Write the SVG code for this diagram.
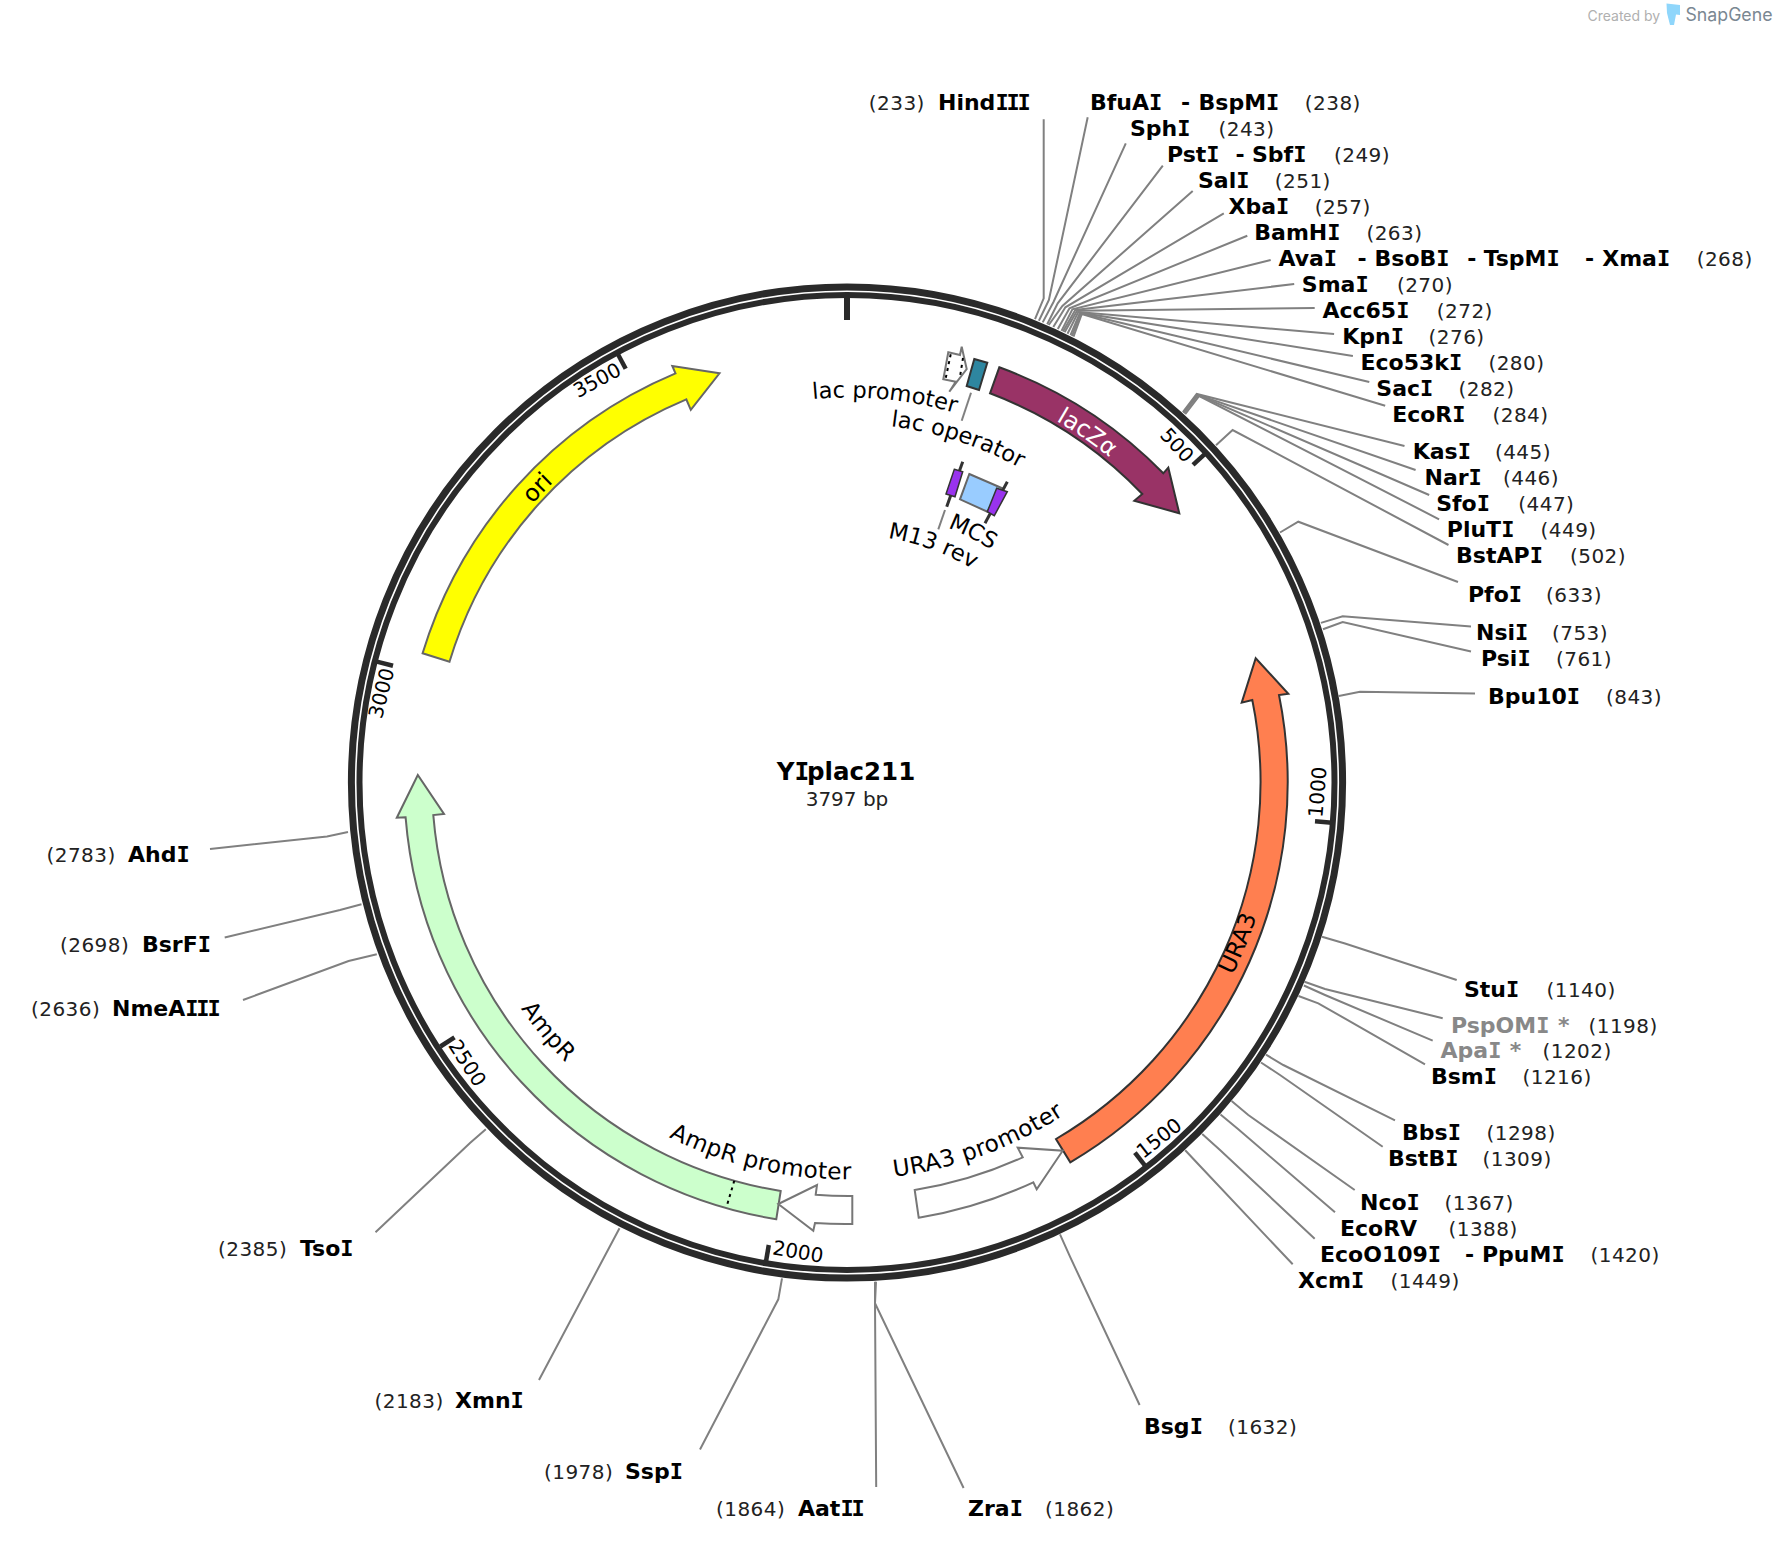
<svg xmlns="http://www.w3.org/2000/svg" width="1780" height="1542" viewBox="0 0 1780 1542">
<style>
text{font-family:"DejaVu Sans","Liberation Sans",sans-serif;fill:#000}
.n{font-weight:700;font-size:22px}
.i{font-family:"DejaVu Sans Mono","DejaVu Sans",monospace;letter-spacing:-2.2px}
.p{font-size:20px;fill:#222;letter-spacing:.45px}
.g{fill:#888}
.f{font-size:22.5px}
.fb{font-size:23.2px;letter-spacing:.4px}
.t{font-size:20px;text-anchor:middle;dominant-baseline:central}
.m{text-anchor:middle}
.l{fill:none;stroke:#808080;stroke-width:2}
.ring{fill:none;stroke:#2a2a2a}
.tick{stroke:#2a2a2a;stroke-width:4.5}
.a{stroke:#666;stroke-width:2;stroke-linejoin:miter}
.b{stroke:#333;stroke-width:2}
.o{fill:#fff;stroke:#777;stroke-width:2}
.d{stroke:#000;stroke-width:2;stroke-dasharray:3 4;fill:none}
.dk{stroke:#333;stroke-width:3}
</style>
<defs>
<path id="bot397" d="M450 782.5A397 397 0 0 0 1244 782.5"/>
<path id="bot431" d="M416 782.5A431 431 0 0 0 1278 782.5"/>
<path id="top385" d="M462 782.5A385 385 0 0 1 1232 782.5"/>
<path id="top359" d="M488 782.5A359 359 0 0 1 1206 782.5"/>
<path id="top274" d="M573 782.5A274 274 0 0 1 1121 782.5"/>
<path id="top248" d="M599 782.5A248 248 0 0 1 1095 782.5"/>
<path id="top420" d="M427 782.5A420 420 0 0 1 1267 782.5"/>
<path id="top418" d="M429 782.5A418 418 0 0 1 1265 782.5"/>
</defs>
<g id="connectors">
<path class="l" d="M1035 319.2L1043.7 298.3L1043.7 119.3"/>
<path class="l" d="M1038.9 320.8L1048.9 300L1087.7 117.3"/>
<path class="l" d="M1042.7 322.4L1053.6 301.7L1125.8 143.3"/>
<path class="l" d="M1047.2 324.3L1057.7 303.3L1162.8 165.7"/>
<path class="l" d="M1048.7 325L1062.4 306L1192.7 191"/>
<path class="l" d="M1053.3 327L1065.4 307.3L1223.8 213.3"/>
<path class="l" d="M1057.8 329L1069.5 308.3L1247.3 235.7"/>
<path class="l" d="M1061.5 330.9L1072.4 309.3L1270.7 260"/>
<path class="l" d="M1063 331.6L1075.3 310L1294.2 284"/>
<path class="l" d="M1064.6 332.3L1077.1 310.7L1314.7 308"/>
<path class="l" d="M1067.5 333.8L1078.3 312L1334.1 334"/>
<path class="l" d="M1070.5 335.2L1080 312.7L1352.9 356"/>
<path class="l" d="M1072 336L1080.6 313.3L1369.3 382"/>
<path class="l" d="M1073.5 336.7L1081.8 314L1385.2 405.7"/>
<path class="l" d="M1182.9 412.1L1196.7 394L1404.5 446"/>
<path class="l" d="M1183.4 412.6L1197.4 394.6L1415.6 470"/>
<path class="l" d="M1184 413.2L1198 395L1429.2 495"/>
<path class="l" d="M1185.2 414.2L1199.2 396L1439.1 519.3"/>
<path class="l" d="M1216 445.2L1232.6 430L1448.5 545"/>
<path class="l" d="M1280 532.5L1298.3 521.7L1458 582"/>
<path class="l" d="M1320.9 622.9L1342.7 616.3L1471 626.5"/>
<path class="l" d="M1323 629.3L1342.7 622L1471 651.5"/>
<path class="l" d="M1338.8 696L1360 691.7L1475 693.5"/>
<path class="l" d="M1322 936.7L1345 943.5L1456.7 980"/>
<path class="l" d="M1304.5 981.8L1325 989L1442.7 1018.3"/>
<path class="l" d="M1303.9 985.5L1325 995L1432.7 1040.7"/>
<path class="l" d="M1298.5 996L1318.3 1003.3L1425 1064.3"/>
<path class="l" d="M1266 1054.7L1283.3 1065L1395 1120.3"/>
<path class="l" d="M1261 1062.5L1280 1075L1382.7 1146.7"/>
<path class="l" d="M1231.6 1101L1248.3 1115L1354.7 1190"/>
<path class="l" d="M1220.5 1114.4L1238 1129L1335 1212.3"/>
<path class="l" d="M1202.2 1134L1220 1150L1314.7 1238.7"/>
<path class="l" d="M1185.2 1150.2L1200 1166L1292.7 1264.3"/>
<path class="l" d="M1060 1234.4L1070 1256.7L1139.6 1405"/>
<path class="l" d="M876 1281.7L875 1303.3L963.6 1488"/>
<path class="l" d="M875 1281.7L875 1303L876.2 1487"/>
<path class="l" d="M782 1278.3L778.3 1299.3L700 1449.5"/>
<path class="l" d="M619.5 1228.2L609 1248L539 1380"/>
<path class="l" d="M485.8 1129.3L470 1143L375.5 1232.3"/>
<path class="l" d="M376.8 954.2L348.6 961L243 1000"/>
<path class="l" d="M361.5 904.2L340 910L224.7 937.5"/>
<path class="l" d="M348 832L327 836.5L210 849"/>
</g>
<g id="backbone">
<circle class="ring" cx="847" cy="782.5" r="495.6" stroke-width="7"/>
<circle class="ring" cx="847" cy="782.5" r="487.5" stroke-width="6"/>
<line x1="847" y1="295" x2="847" y2="320" stroke="#2a2a2a" stroke-width="6"/>
<line class="tick" x1="1205" y1="453.8" x2="1193" y2="464.8"/>
<line class="tick" x1="1332" y1="822.7" x2="1315" y2="821.3"/>
<line class="tick" x1="1145.4" y1="1166.2" x2="1134.9" y2="1152.7"/>
<line class="tick" x1="766" y1="1261.5" x2="768.8" y2="1245"/>
<line class="tick" x1="440.4" y1="1046.5" x2="454.5" y2="1037.4"/>
<line class="tick" x1="376.8" y1="661.6" x2="393" y2="665.8"/>
<line class="tick" x1="617.8" y1="354" x2="625.7" y2="368.7"/>
<g>
<text class="t" transform="translate(1177 445) rotate(47.4)">500</text>
<text class="t" transform="translate(1317.5 792) rotate(-85.2)">1000</text>
<text class="t" transform="translate(1159 1138) rotate(-37.8)">1500</text>
<text class="t" transform="translate(798 1251.7) rotate(9.6)">2000</text>
<text class="t" transform="translate(467.4 1063) rotate(57)">2500</text>
<text class="t" transform="translate(381.3 693) rotate(-75.6)">3000</text>
<text class="t" transform="translate(597 380) rotate(-28.2)">3500</text>
</g>
</g>
<g id="feature-ori">
<path class="a" fill="#ffff00" d="M422.6 653.3A443.6 443.6 0 0 1 675.5 373.4L672.3 365.9L719.5 373.3L690.8 409.9L686.3 399.3A415.5 415.5 0 0 0 449.5 661.7Z"/>
<text class="f m" style="font-size:23.5px" transform="rotate(-46.4 847 782.5)"><textPath href="#top420" startOffset="50%">ori</textPath></text>
</g>
<g id="feature-lacZ">
<path class="b" fill="#993366" d="M999.3 367.3A442 442 0 0 1 1163.3 473.3L1168.3 467.7L1179.3 513.3L1134.3 500.7L1142.3 494A414 414 0 0 0 990 393.3Z"/>
<text class="f m" style="fill:#fff;font-size:23.5px" transform="rotate(34.5 847 782.5)"><textPath href="#top418" startOffset="50%">lacZα</textPath></text>
</g>
<g id="feature-URA3">
<path class="b" fill="#ff7f50" d="M1056 1139A413.5 413.5 0 0 0 1252.3 700L1241.7 702.7L1255.7 658.3L1288.3 693.7L1279 695A441 441 0 0 1 1070.3 1162.3Z"/>
<text class="fb m" transform="rotate(-67.7 847 782.5)"><textPath href="#bot431" startOffset="50%">URA3</textPath></text>
</g>
<g id="feature-URA3-promoter">
<path class="o" d="M914.7 1190A415 415 0 0 0 1022.7 1157.3L1017.7 1147.7L1062.7 1150.7L1036.7 1189.3L1033.3 1182.3A443 443 0 0 1 918.7 1217.7Z"/>
<text class="fb m" transform="rotate(-20 847 782.5)"><textPath href="#bot397" startOffset="50%">URA3 promoter</textPath></text>
</g>
<g id="feature-AmpR">
<path class="a" fill="#ccffcc" d="M405.6 817.3L396.8 817.7L417.8 775L444 814L433.3 815.1A415 415 0 0 0 780.7 1191L776.3 1219.2A442.8 442.8 0 0 1 405.6 817.3Z"/>
<line class="d" x1="734.3" y1="1180.7" x2="726.4" y2="1207.3"/>
<text class="fb m" transform="rotate(50.2 847 782.5)"><textPath href="#bot397" startOffset="50%">AmpR</textPath></text>
</g>
<g id="feature-AmpR-promoter">
<path class="o" d="M778.3 1204L817 1185L815.7 1194.7A415 415 0 0 0 852.3 1196L852.3 1224A443 443 0 0 1 815 1223L813.3 1230.7Z"/>
<text class="fb m" transform="rotate(13 847 782.5)"><textPath href="#bot397" startOffset="50%">AmpR promoter</textPath></text>
</g>
<g id="feature-lac-promoter">
<path class="o" d="M943.3 379.3L948.3 352.3L960 355L961.7 346.7L966.7 369L949.3 391.7L955.7 381.7Z"/>
<line class="d" x1="950.7" y1="354.3" x2="945.7" y2="378.3"/>
<line class="d" x1="963" y1="358" x2="960" y2="376.7"/>
<text class="f m" transform="rotate(5.6 847 782.5)"><textPath href="#top385" startOffset="50%">lac promoter</textPath></text>
</g>
<g id="feature-lac-operator">
<path class="b" fill="#2e86a0" d="M974.3 359L987.3 362.7L979 390L966.7 386Z"/>
<line class="l" x1="971" y1="392.7" x2="961.7" y2="420.7"/>
<text class="f m" transform="rotate(17.9 847 782.5)"><textPath href="#top359" startOffset="50%">lac operator</textPath></text>
</g>
<g id="feature-MCS">
<path class="a" fill="#99ccff" d="M969.3 474L1001.7 488L987.3 511.7L960 499.3Z"/>
<line class="dk" x1="1007.3" y1="481.7" x2="985" y2="523.3"/>
<path fill="#9933ee" stroke="#333" stroke-width="1.5" d="M996.7 488.3L1007.3 491.7L994.3 515.7L987.3 511.7Z"/>
<text class="f m" transform="rotate(26.7 847 782.5)"><textPath href="#top274" startOffset="50%">MCS</textPath></text>
</g>
<g id="feature-M13-rev">
<line class="dk" x1="962.7" y1="461.7" x2="946.7" y2="506.7"/>
<path fill="#9933ee" stroke="#333" stroke-width="1.5" d="M954.3 469.3L962.7 471.7L955 496.7L946 494Z"/>
<line class="l" x1="945" y1="510" x2="938.3" y2="529.3"/>
<text class="f m" transform="rotate(20 847 782.5)"><textPath href="#top248" startOffset="50%">M13 rev</textPath></text>
</g>
<g id="map-title">
<text x="846" y="780" class="m" style="font-size:24.5px;font-weight:700">Y<tspan class="i">I</tspan>plac211</text>
<text x="847" y="806" class="m" style="font-size:20px;fill:#222">3797 bp</text>
</g>
<g id="sites">
<g id="site-HindIII"><text class="p" x="868.8" y="110">(233)</text><text class="n" x="938" y="110">Hind<tspan class="i">III</tspan></text></g>
<g id="site-BfuAI"><text class="n" x="1090" y="110">BfuA<tspan class="i">I</tspan></text><text class="n" x="1181" y="110">-</text><text class="n" x="1198.6" y="110">BspM<tspan class="i">I</tspan></text><text class="p" x="1304.8" y="110">(238)</text></g>
<g id="site-SphI"><text class="n" x="1130" y="136">Sph<tspan class="i">I</tspan></text><text class="p" x="1218.5" y="136">(243)</text></g>
<g id="site-PstI"><text class="n" x="1166.9" y="162">Pst<tspan class="i">I</tspan></text><text class="n" x="1235.5" y="162">-</text><text class="n" x="1252" y="162">Sbf<tspan class="i">I</tspan></text><text class="p" x="1334" y="162">(249)</text></g>
<g id="site-SalI"><text class="n" x="1198" y="188">Sal<tspan class="i">I</tspan></text><text class="p" x="1274.8" y="188">(251)</text></g>
<g id="site-XbaI"><text class="n" x="1228.5" y="214">Xba<tspan class="i">I</tspan></text><text class="p" x="1314.7" y="214">(257)</text></g>
<g id="site-BamHI"><text class="n" x="1254.3" y="240">BamH<tspan class="i">I</tspan></text><text class="p" x="1366.4" y="240">(263)</text></g>
<g id="site-AvaI"><text class="n" x="1278.4" y="266">Ava<tspan class="i">I</tspan></text><text class="n" x="1357.6" y="266">-</text><text class="n" x="1374.6" y="266">BsoB<tspan class="i">I</tspan></text><text class="n" x="1467.3" y="266">-</text><text class="n" x="1483.7" y="266">TspM<tspan class="i">I</tspan></text><text class="n" x="1585" y="266">-</text><text class="n" x="1602.2" y="266">Xma<tspan class="i">I</tspan></text><text class="p" x="1696.7" y="266">(268)</text></g>
<g id="site-SmaI"><text class="n" x="1301.8" y="292">Sma<tspan class="i">I</tspan></text><text class="p" x="1396.9" y="292">(270)</text></g>
<g id="site-Acc65I"><text class="n" x="1322.4" y="318">Acc65<tspan class="i">I</tspan></text><text class="p" x="1436.8" y="318">(272)</text></g>
<g id="site-KpnI"><text class="n" x="1342.3" y="344">Kpn<tspan class="i">I</tspan></text><text class="p" x="1428.6" y="344">(276)</text></g>
<g id="site-Eco53kI"><text class="n" x="1360.5" y="370">Eco53k<tspan class="i">I</tspan></text><text class="p" x="1488.4" y="370">(280)</text></g>
<g id="site-SacI"><text class="n" x="1376.3" y="396">Sac<tspan class="i">I</tspan></text><text class="p" x="1458.5" y="396">(282)</text></g>
<g id="site-EcoRI"><text class="n" x="1392.2" y="422">EcoR<tspan class="i">I</tspan></text><text class="p" x="1492.5" y="422">(284)</text></g>
<g id="site-KasI"><text class="n" x="1412.7" y="459">Kas<tspan class="i">I</tspan></text><text class="p" x="1494.9" y="459">(445)</text></g>
<g id="site-NarI"><text class="n" x="1424.5" y="485">Nar<tspan class="i">I</tspan></text><text class="p" x="1503" y="485">(446)</text></g>
<g id="site-SfoI"><text class="n" x="1436.2" y="511">Sfo<tspan class="i">I</tspan></text><text class="p" x="1518.3" y="511">(447)</text></g>
<g id="site-PluTI"><text class="n" x="1446.8" y="537">PluT<tspan class="i">I</tspan></text><text class="p" x="1540.6" y="537">(449)</text></g>
<g id="site-BstAPI"><text class="n" x="1456.1" y="563">BstAP<tspan class="i">I</tspan></text><text class="p" x="1570" y="563">(502)</text></g>
<g id="site-PfoI"><text class="n" x="1468" y="602">Pfo<tspan class="i">I</tspan></text><text class="p" x="1546" y="602">(633)</text></g>
<g id="site-NsiI"><text class="n" x="1476" y="640">Nsi<tspan class="i">I</tspan></text><text class="p" x="1552" y="640">(753)</text></g>
<g id="site-PsiI"><text class="n" x="1481" y="666">Psi<tspan class="i">I</tspan></text><text class="p" x="1556" y="666">(761)</text></g>
<g id="site-Bpu10I"><text class="n" x="1488" y="704">Bpu10<tspan class="i">I</tspan></text><text class="p" x="1606" y="704">(843)</text></g>
<g id="site-StuI"><text class="n" x="1464" y="997">Stu<tspan class="i">I</tspan></text><text class="p" x="1546.5" y="997">(1140)</text></g>
<g id="site-PspOMI"><text class="n g" x="1451" y="1033" style="word-spacing:3px">PspOM<tspan class="i">I</tspan> *</text><text class="p" x="1588.5" y="1033">(1198)</text></g>
<g id="site-ApaI"><text class="n g" x="1440.5" y="1058" style="word-spacing:3px">Apa<tspan class="i">I</tspan> *</text><text class="p" x="1542.5" y="1058">(1202)</text></g>
<g id="site-BsmI"><text class="n" x="1431" y="1084">Bsm<tspan class="i">I</tspan></text><text class="p" x="1522.5" y="1084">(1216)</text></g>
<g id="site-BbsI"><text class="n" x="1402" y="1140">Bbs<tspan class="i">I</tspan></text><text class="p" x="1486.5" y="1140">(1298)</text></g>
<g id="site-BstBI"><text class="n" x="1388" y="1166">BstB<tspan class="i">I</tspan></text><text class="p" x="1482.5" y="1166">(1309)</text></g>
<g id="site-NcoI"><text class="n" x="1360" y="1210">Nco<tspan class="i">I</tspan></text><text class="p" x="1444.5" y="1210">(1367)</text></g>
<g id="site-EcoRV"><text class="n" x="1340" y="1236">EcoRV</text><text class="p" x="1448.5" y="1236">(1388)</text></g>
<g id="site-EcoO109I"><text class="n" x="1320" y="1262">EcoO109<tspan class="i">I</tspan></text><text class="n" x="1465" y="1262">-</text><text class="n" x="1482" y="1262">PpuM<tspan class="i">I</tspan></text><text class="p" x="1590.5" y="1262">(1420)</text></g>
<g id="site-XcmI"><text class="n" x="1298" y="1288">Xcm<tspan class="i">I</tspan></text><text class="p" x="1390.5" y="1288">(1449)</text></g>
<g id="site-BsgI"><text class="n" x="1144" y="1434">Bsg<tspan class="i">I</tspan></text><text class="p" x="1228" y="1434">(1632)</text></g>
<g id="site-ZraI"><text class="n" x="968" y="1516">Zra<tspan class="i">I</tspan></text><text class="p" x="1045" y="1516">(1862)</text></g>
<g id="site-AatII"><text class="p" x="716" y="1516">(1864)</text><text class="n" x="798" y="1516">Aat<tspan class="i">II</tspan></text></g>
<g id="site-SspI"><text class="p" x="544" y="1479">(1978)</text><text class="n" x="625" y="1479">Ssp<tspan class="i">I</tspan></text></g>
<g id="site-XmnI"><text class="p" x="374.5" y="1408">(2183)</text><text class="n" x="455" y="1408">Xmn<tspan class="i">I</tspan></text></g>
<g id="site-TsoI"><text class="p" x="218" y="1256">(2385)</text><text class="n" x="300" y="1256">Tso<tspan class="i">I</tspan></text></g>
<g id="site-NmeAIII"><text class="p" x="31" y="1016">(2636)</text><text class="n" x="112" y="1016">NmeA<tspan class="i">III</tspan></text></g>
<g id="site-BsrFI"><text class="p" x="60" y="952">(2698)</text><text class="n" x="142" y="952">BsrF<tspan class="i">I</tspan></text></g>
<g id="site-AhdI"><text class="p" x="46.5" y="862">(2783)</text><text class="n" x="128" y="862">Ahd<tspan class="i">I</tspan></text></g>
</g>
<g id="watermark">
<text x="1587.5" y="20.5" style="font-family:Inter,'Open Sans',sans-serif;font-size:14px;fill:#b0b0b0">Created by</text>
<path fill="#8fd6fb" d="M1666.5 3.5L1680 5L1680 15L1676 14.5L1674 25L1670 25L1667 13Z"/>
<text x="1685.5" y="21" textLength="87" lengthAdjust="spacingAndGlyphs" style="font-family:Inter,'Open Sans',sans-serif;font-size:18px;fill:#7a8792">SnapGene</text>
</g>
</svg>
